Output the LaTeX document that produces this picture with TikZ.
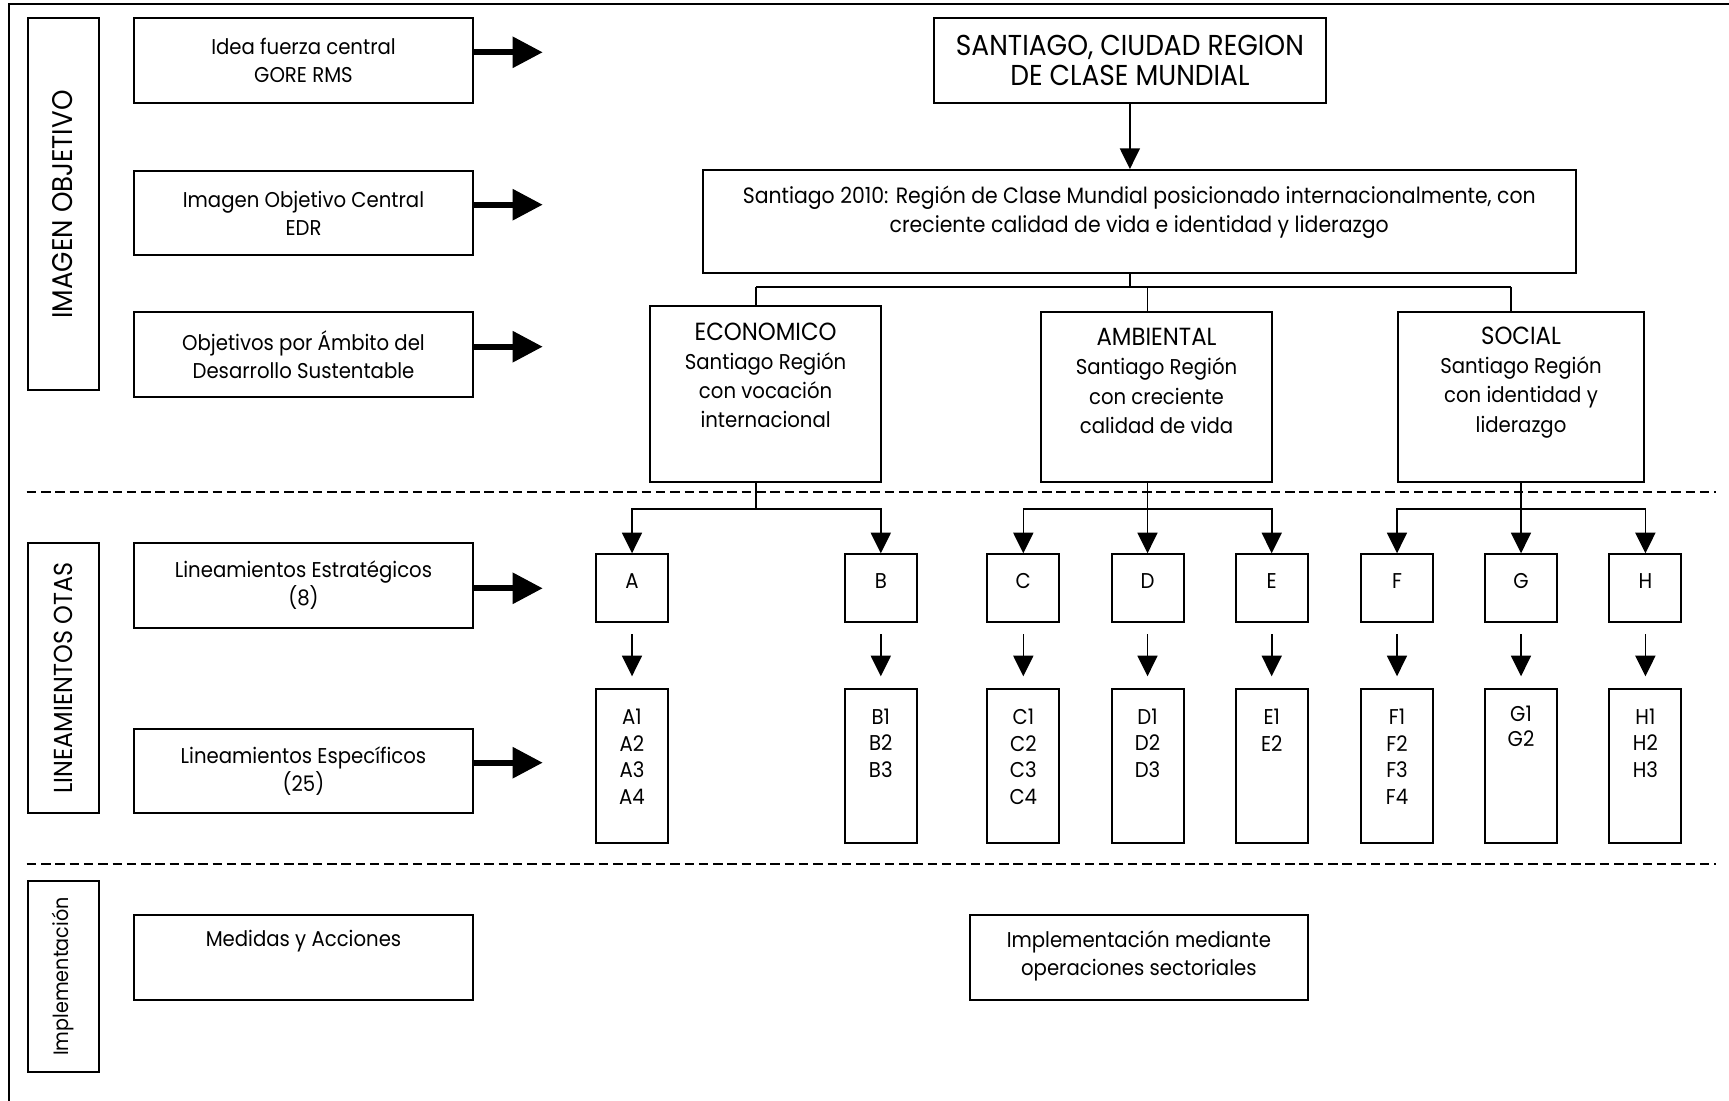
\documentclass[tikz,border=0pt]{standalone}
\usepackage{fontspec}
\setmainfont{Poppins}[FakeStretch=0.92]
\usetikzlibrary{arrows.meta}
\newcommand\myfa{\fontsize{10.7pt}{14pt}\selectfont}
\newcommand\myfw{\fontsize{11.1pt}{14.7pt}\selectfont}
\newcommand\myfb{\fontsize{10.7pt}{14.6pt}\selectfont}
\newcommand\myfh{\fontsize{12.4pt}{14.6pt}\selectfont}
\newcommand\myfc{\fontsize{10.7pt}{13.3pt}\selectfont}
\newcommand\myfg{\fontsize{10.7pt}{12.85pt}\selectfont}
\newcommand\myfs{\fontsize{14.4pt}{14.65pt}\selectfont}
\newcommand\myfv{\fontsize{14.2pt}{15pt}\selectfont}
\newcommand\myfl{\fontsize{13pt}{15pt}\selectfont}
\newcommand\myfi{\fontsize{10.4pt}{13pt}\selectfont}
\begin{document}
\begin{tikzpicture}[x=0.5pt,y=-0.5pt,
 box/.style={draw, line width=1pt, inner sep=0pt, align=center, font=\myfa},
 side/.style={box, minimum width=169.25pt, minimum height=42.3pt},
 vbox/.style={box, rotate=90, minimum height=35.5pt},
 fat/.style={line width=2.85pt, -{Triangle[length=15pt,width=15pt]}},
 arr/.style={line width=0.8pt, -{Triangle[length=10.3pt,width=10pt]}},
 conn/.style={line width=0.8pt},
 sep/.style={line width=1pt, dash pattern=on 4.75pt off 2.4pt},
 lbox/.style={box, minimum width=36pt, minimum height=33.85pt, text height=4pt, text depth=4pt},
 ibox/.style={box, minimum width=36pt, minimum height=76.7pt},
 txt/.style={inner sep=0pt, align=center, font=\myfa}]
\useasboundingbox (0,0) rectangle (1729,1101);
% frame
\draw[line width=1pt] (8.5,1101) -- (8.5,4) -- (1729,4);
% section labels
\node[vbox, minimum width=186pt, font=\myfv] (io) at (63,204.5) {IMAGEN OBJETIVO};
\node[vbox, minimum width=135.3pt, font=\myfl] (lo) at (63.3,678) {LINEAMIENTOS OTAS};
\node[vbox, minimum width=95.8pt, font=\myfi] (im) at (63,976.5) {Implementación};
% left boxes
\node[side] (b1) at (303.5,60.3) {Idea fuerza central\\GORE RMS};
\node[side] (b2) at (303.5,213) {Imagen Objetivo Central\\EDR};
\node[side] (b3) at (303.5,354.5) {Objetivos por Ámbito del\\Desarrollo Sustentable};
\node[side] (b4) at (303.5,585.3) {Lineamientos Estratégicos\\(8)};
\node[side] (b5) at (303.5,771) {Lineamientos Específicos\\(25)};
\node[side] (b6) at (303.5,957.5) {};
\node[txt] (b6t) at (303.5,941) {Medidas y Acciones};
% fat arrows
\coordinate (t1) at (542.7,52.3);
\coordinate (t2) at (542.7,204.7);
\coordinate (t3) at (542.7,346.7);
\coordinate (t4) at (542.7,588.3);
\coordinate (t5) at (542.7,762.7);
\draw[fat] (b1.east |- t1) -- (t1);
\draw[fat] (b2.east |- t2) -- (t2);
\draw[fat] (b3.east |- t3) -- (t3);
\draw[fat] (b4.east |- t4) -- (t4);
\draw[fat] (b5.east |- t5) -- (t5);
% top hierarchy
\node[box, font=\myfs, minimum width=195.85pt, minimum height=42.2pt] (sant) at (1129.9,60.5) {SANTIAGO, CIUDAD REGION\\DE CLASE MUNDIAL};
\node[box, minimum width=436.25pt, minimum height=51.35pt] (vis) at (1139.25,221.35) {};
\node[txt, font=\myfw] (vist) at (1139.25,212.5) {Santiago 2010: Región de Clase Mundial posicionado internacionalmente, con\\creciente calidad de vida e identidad y liderazgo};
\draw[arr] (sant.south) -- (sant.south |- vis.north);
\coordinate (bar) at (1129.9,287.3);
\coordinate (barL) at (756,287.3);
\coordinate (barM) at (1147.5,287.3);
\coordinate (barR) at (1511,287.3);
\draw[conn] (sant.south |- vis.south) -- (bar);
\draw[conn] (barL) -- (barR);
\node[box, minimum width=115.2pt, minimum height=87.85pt] (eco) at (765.6,393.85) {};
\node[txt, font=\myfb] (ecot) at (765.6,375.5) {{\myfh ECONOMICO}\\Santiago Región\\con vocación\\internacional};
\node[box, minimum width=115.9pt, minimum height=84.7pt] (amb) at (1156.5,397) {};
\node[txt, font=\myfb] (ambt) at (1156.5,381) {{\myfh AMBIENTAL}\\Santiago Región\\con creciente\\calidad de vida};
\node[box, minimum width=123.15pt, minimum height=84.7pt] (soc) at (1521,397) {};
\node[txt, font=\myfb] (soct) at (1521,382.5) {{\myfh SOCIAL}\\Santiago Región\\con identidad y\\liderazgo};
\draw[conn] (barL) -- (barL |- eco.north);
\draw[conn] (barM) -- (barM |- amb.north);
\draw[conn] (barR) -- (barR |- soc.north);
% separators
\draw[sep] (26.7,491.7) -- (1716,491.7);
\draw[sep] (26.7,864) -- (1716,864);
% strategic lines
\node[lbox] (A) at (632,588.15) {A};
\node[lbox] (B) at (880.8,588.15) {B};
\node[lbox] (C) at (1023.3,588.15) {C};
\node[lbox] (D) at (1147.5,588.15) {D};
\node[lbox] (E) at (1271.7,588.15) {E};
\node[lbox] (F) at (1397,588.15) {F};
\node[lbox] (G) at (1521,588.15) {G};
\node[lbox] (H) at (1645.4,588.15) {H};
% specific lines
\node[ibox] (A1) at (632,766) {};
\node[txt, font=\myfc] (A1t) at (632,756.7) {A1\\A2\\A3\\A4};
\node[ibox] (B1) at (880.8,766) {};
\node[txt, font=\myfc] (B1t) at (880.8,743.3) {B1\\B2\\B3};
\node[ibox] (C1) at (1023.3,766) {};
\node[txt, font=\myfc] (C1t) at (1023.3,756.7) {C1\\C2\\C3\\C4};
\node[ibox] (D1) at (1147.5,766) {};
\node[txt, font=\myfc] (D1t) at (1147.5,743.3) {D1\\D2\\D3};
\node[ibox] (E1) at (1271.7,766) {};
\node[txt, font=\myfc] (E1t) at (1271.7,730) {E1\\E2};
\node[ibox] (F1) at (1397,766) {};
\node[txt, font=\myfc] (F1t) at (1397,756.7) {F1\\F2\\F3\\F4};
\node[ibox] (G1) at (1521,766) {};
\node[txt, font=\myfg] (G1t) at (1521,726.2) {G1\\G2};
\node[ibox] (H1) at (1645.4,766) {};
\node[txt, font=\myfc] (H1t) at (1645.4,743.3) {H1\\H2\\H3};
% branches
\coordinate (eb) at (756,508.7);
\coordinate (ab) at (1147.5,508.7);
\coordinate (sb) at (1521,508.7);
\draw[conn] (barL |- eco.south) -- (eb);
\draw[arr] (eb) -| (A.north);
\draw[arr] (eb) -| (B.north);
\draw[arr] (D.north |- amb.south) -- (D.north);
\draw[arr] (ab) -| (C.north);
\draw[arr] (ab) -| (E.north);
\draw[arr] (G.north |- soc.south) -- (G.north);
\draw[arr] (sb) -| (F.north);
\draw[arr] (sb) -| (H.north);
\foreach \n in {A,B,C,D,E,F,G,H}
  \draw[arr, shorten <=5.5pt, shorten >=6pt] (\n.south) -- (\n1.north);
% implementation
\node[box, minimum width=168.85pt, minimum height=42.5pt] (impl) at (1138.85,957.5) {};
\node[txt] (implt) at (1138.85,956) {Implementación mediante\\operaciones sectoriales};
\end{tikzpicture}
\end{document}
